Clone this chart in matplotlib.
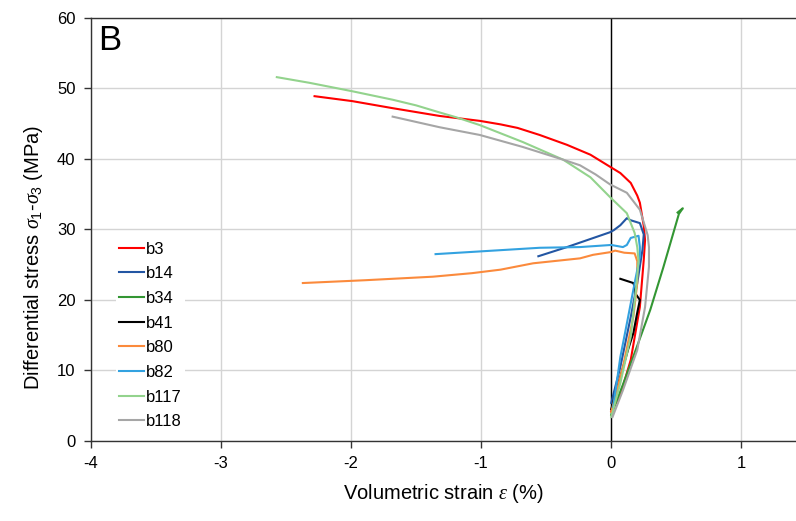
import matplotlib
matplotlib.use("Agg")
import matplotlib.pyplot as plt

plt.rcParams['font.family'] = ['Liberation Sans', 'DejaVu Sans']
plt.rcParams['axes.unicode_minus'] = False
plt.rcParams['mathtext.fontset'] = 'custom'
plt.rcParams['mathtext.it'] = 'Liberation Serif:italic'
plt.rcParams['mathtext.rm'] = 'Liberation Sans'

# --- data (volumetric strain %, differential stress MPa) ---
b3_x = [0.0, 0.07, 0.15, 0.22, 0.25, 0.26, 0.25, 0.22, 0.20, 0.15, 0.07, -0.01,
        -0.16, -0.34, -0.55, -0.72, -0.85, -1.01, -1.32, -1.68, -1.99, -2.28]
b3_y = [4.2, 6.5, 11.5, 19.0, 25.7, 28.5, 30.5, 33.8, 34.8, 36.6, 38.0, 38.9,
        40.6, 42.0, 43.4, 44.4, 44.9, 45.4, 46.1, 47.2, 48.2, 48.9]

b14_x = [0.0, 0.07, 0.15, 0.20, 0.24, 0.25, 0.22, 0.15, 0.12, 0.07, 0.02, -0.01,
         -0.34, -0.56]
b14_y = [5.4, 10.5, 17.6, 22.4, 27.1, 29.3, 30.9, 31.3, 31.6, 30.6, 29.9, 29.6,
         27.5, 26.2]

b34_x = [0.0, 0.09, 0.20, 0.30, 0.40, 0.52, 0.55, 0.51]
b34_y = [3.7, 8.0, 13.5, 18.6, 24.6, 32.2, 33.0, 32.4]

b41_x = [0.0, 0.07, 0.13, 0.17, 0.20, 0.22, 0.19, 0.18, 0.17, 0.12, 0.07]
b41_y = [4.5, 9.1, 13.0, 15.3, 18.2, 20.0, 20.8, 21.8, 22.4, 22.7, 23.0]

b80_x = [0.0, 0.09, 0.17, 0.20, 0.20, 0.18, 0.10, 0.03, 0.0, -0.14, -0.24, -0.60,
         -0.85, -1.07, -1.37, -1.89, -2.37]
b80_y = [4.1, 10.5, 17.6, 22.4, 25.5, 26.6, 26.7, 27.0, 26.8, 26.4, 25.9, 25.2,
         24.3, 23.8, 23.3, 22.8, 22.4]

b82_x = [0.015, 0.07, 0.13, 0.18, 0.22, 0.22, 0.21, 0.15, 0.12, 0.09, 0.0, -0.24,
         -0.55, -1.35]
b82_y = [4.8, 11.9, 17.6, 22.4, 26.1, 27.5, 29.1, 28.8, 27.8, 27.5, 27.8, 27.5,
         27.4, 26.5]

b117_x = [0.0, 0.07, 0.15, 0.19, 0.21, 0.20, 0.18, 0.12, -0.01, -0.16, -0.37,
          -0.68, -1.01, -1.19, -1.32, -1.50, -1.68, -1.99, -2.32, -2.57]
b117_y = [3.4, 8.2, 14.8, 21.4, 25.5, 27.5, 29.5, 32.3, 34.6, 37.4, 39.9,
          42.4, 44.8, 45.9, 46.6, 47.6, 48.4, 49.6, 50.8, 51.6]

b118_x = [0.01, 0.09, 0.20, 0.26, 0.29, 0.29, 0.28, 0.22, 0.12, -0.01, -0.12,
          -0.24, -0.37, -0.68, -1.01, -1.32, -1.68]
b118_y = [3.4, 7.2, 12.9, 19.0, 24.7, 27.5, 29.2, 32.8, 35.2, 36.4, 37.8,
          39.1, 39.9, 41.7, 43.4, 44.5, 46.0]

series = [
    ("b3", b3_x, b3_y, "#ff0000"),
    ("b14", b14_x, b14_y, "#2356a3"),
    ("b34", b34_x, b34_y, "#339633"),
    ("b41", b41_x, b41_y, "#000000"),
    ("b80", b80_x, b80_y, "#fb8a3c"),
    ("b82", b82_x, b82_y, "#33a2e0"),
    ("b117", b117_x, b117_y, "#93d38d"),
    ("b118", b118_x, b118_y, "#a6a6a6"),
]

fig = plt.figure(figsize=(7.96, 5.21), dpi=100)
ax = fig.add_axes([0.114, 0.1536, 0.886, 0.812])

for name, xs, ys, col in series:
    ax.plot(xs, ys, color=col, lw=1.5, label=name, zorder=3)

ax.set_xlim(-4, 1.42)
ax.set_ylim(0, 60)
ax.set_xticks([-4, -3, -2, -1, 0, 1])
ax.set_yticks([0, 10, 20, 30, 40, 50, 60])
ax.grid(True, color="#d4d4d4", lw=1.0)
ax.set_axisbelow(True)
ax.axvline(0, color="black", lw=1.0, zorder=2)
for s in ax.spines.values():
    s.set_color("#333333")
    s.set_linewidth(1.0)
ax.spines['right'].set_visible(False)
ax.tick_params(direction='out', length=5, width=1, labelsize=12, colors="#333333",
               labelcolor="black", pad=6)

ax.set_xlabel(r"Volumetric strain $\mathit{\varepsilon}$ (%)", fontsize=14.5, labelpad=8)
ax.set_ylabel(r"Differential stress $\mathit{\sigma}_1$-$\mathit{\sigma}_3$ (MPa)",
              fontsize=14.5)
ax.yaxis.set_label_coords(-0.065, 0.433)

ax.text(0.01, 0.985, "B", transform=ax.transAxes, fontsize=25, va="top", ha="left")

leg = ax.legend(loc="upper left", bbox_to_anchor=(0.024, 0.499), frameon=True,
                fontsize=12, handlelength=1.5, handletextpad=0.12,
                labelspacing=0.58, borderpad=0.2)
leg.get_frame().set_edgecolor("none")
leg.get_frame().set_facecolor("white")
leg.get_frame().set_alpha(1)

fig.savefig("out.png", dpi=100)
